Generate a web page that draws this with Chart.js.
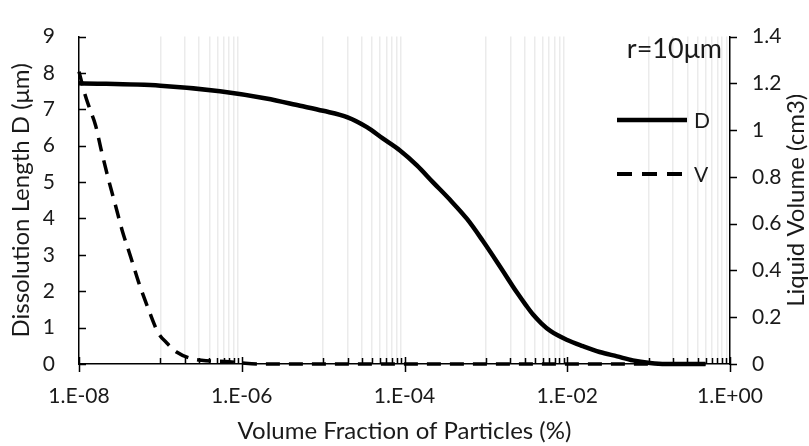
<!DOCTYPE html>
<html>
<head>
<meta charset="utf-8">
<script src="https://cdn.jsdelivr.net/npm/chart.js@4"></script>
<style>
    html, body { margin: 0; padding: 0; background: #fff; }
</style>
</head>
<body>
<canvas id="dissolutionChart" width="809" height="446"></canvas>
<script>
// volume fraction (%) and dissolution length D (um)
const fracD = [1e-8, 1e-7, 5.4e-7, 2e-6, 5.2e-6, 1e-5, 2e-5, 3.45e-5, 5.4e-5, 8.8e-5,
    1.42e-4, 2.23e-4, 3.6e-4, 5.9e-4, 9.2e-4, 1.49e-3, 2.4e-3, 3.1e-3, 3.8e-3, 4.8e-3,
    6.2e-3, 1e-2, 1.56e-2, 2.5e-2, 4.1e-2, 6.4e-2, 0.104, 0.16, 0.5];
const lengthD = [7.72, 7.65, 7.50, 7.30, 7.10, 6.96, 6.78, 6.51, 6.20, 5.87,
    5.46, 5.00, 4.52, 3.98, 3.38, 2.68, 1.97, 1.62, 1.36, 1.12,
    0.91, 0.66, 0.49, 0.33, 0.21, 0.10, 0.03, 0.0, 0.0];

// volume fraction (%) and liquid volume V (cm3)
const fracV = [1e-8, 1.19e-8, 1.36e-8, 1.6e-8, 1.89e-8, 2.3e-8, 2.8e-8, 3.4e-8, 4.3e-8, 5.4e-8,
    6.95e-8, 9.35e-8, 1.2e-7, 1.6e-7, 2.3e-7, 3.2e-7, 7e-7, 1.1e-6, 1.7e-6, 0.5];
const volumeV = [1.25, 1.15, 1.09, 1.02, 0.91, 0.79, 0.68, 0.57, 0.46, 0.35,
    0.245, 0.135, 0.09, 0.05, 0.025, 0.016, 0.01, 0.003, 0.0, 0.0];

const majorTicks = [1e-8, 1e-6, 1e-4, 1e-2, 1];
const xTickLabels = ["1.E-08", "1.E-06", "1.E-04", "1.E-02", "1.E+00"];

const FONT = "Lato";
const TEXT = "#1a1a1a";

function isMajor(v) {
    return majorTicks.some(m => Math.abs(Math.log10(v) - Math.log10(m)) < 1e-6);
}

// minor ticks: 1..9 x 10^odd exponent, as in the original
function buildXTicks() {
    const out = [];
    for (let e = -8; e <= 0; e++) {
        if (e % 2 === 0) {
            out.push(Math.pow(10, e));
        } else {
            for (let m = 1; m <= 9; m++) out.push(m * Math.pow(10, e));
        }
    }
    return out.map(v => ({ value: v }));
}

const axisMarks = {
    id: "axisMarks",
    beforeDatasetsDraw(chart) {
        const { ctx, chartArea: a, scales } = chart;
        ctx.save();
        ctx.strokeStyle = "#000";
        ctx.lineWidth = 1.5;
        ctx.beginPath();
        scales.y.ticks.forEach(t => {
            const py = Math.round(scales.y.getPixelForValue(t.value)) + 0.5;
            ctx.moveTo(a.left, py);
            ctx.lineTo(a.left + 7, py);
        });
        scales.y1.ticks.forEach(t => {
            const py = Math.round(scales.y1.getPixelForValue(t.value)) + 0.5;
            ctx.moveTo(a.right, py);
            ctx.lineTo(a.right + 7, py);
        });
        scales.x.ticks.forEach(t => {
            const px = Math.round(scales.x.getPixelForValue(t.value)) + 0.5;
            if (isMajor(t.value)) {
                ctx.moveTo(px, a.bottom - 7);
                ctx.lineTo(px, a.bottom + 8);
            } else {
                ctx.moveTo(px, a.bottom - 6);
                ctx.lineTo(px, a.bottom);
            }
        });
        ctx.stroke();
        ctx.restore();
    },
    afterDraw(chart) {
        const { ctx, chartArea: a } = chart;
        ctx.save();
        ctx.fillStyle = TEXT;
        ctx.font = "27px " + FONT;
        ctx.textAlign = "right";
        ctx.textBaseline = "alphabetic";
        ctx.fillText("r=10\u03bcm", a.right - 8, 58);

        // right axis title, reading bottom to top like the left one
        ctx.save();
        ctx.font = "24px " + FONT;
        ctx.textAlign = "center";
        ctx.textBaseline = "middle";
        ctx.translate(796, (a.top + a.bottom) / 2);
        ctx.rotate(-Math.PI / 2);
        ctx.fillText("Liquid Volume (cm3)", 0, 0);
        ctx.restore();

        // legend
        const rows = [
            { label: "D", y: 120, dash: [], width: 4.5 },
            { label: "V", y: 174, dash: [15, 10], width: 4 }
        ];
        ctx.font = "21px " + FONT;
        ctx.textAlign = "left";
        ctx.textBaseline = "middle";
        rows.forEach(r => {
            ctx.beginPath();
            ctx.setLineDash(r.dash);
            ctx.lineWidth = r.width;
            ctx.strokeStyle = "#000";
            ctx.moveTo(617, r.y);
            ctx.lineTo(687, r.y);
            ctx.stroke();
            ctx.setLineDash([]);
            ctx.fillText(r.label, 694, r.y + 1);
        });
        ctx.restore();
    }
};

document.addEventListener("DOMContentLoaded", () => {
    const ctx = document.getElementById("dissolutionChart").getContext("2d");

    const data = {
        datasets: [
            {
                label: "D",
                data: fracD.map((x, i) => ({ x: x, y: lengthD[i] })),
                yAxisID: "y",
                borderColor: "#000",
                borderWidth: 4.5,
                pointRadius: 0,
                cubicInterpolationMode: "monotone",
                clip: false
            },
            {
                label: "V",
                data: fracV.map((x, i) => ({ x: x, y: volumeV[i] })),
                yAxisID: "y1",
                borderColor: "#000",
                borderWidth: 3.5,
                borderDash: [14, 9],
                pointRadius: 0,
                cubicInterpolationMode: "monotone",
                clip: false
            }
        ]
    };

    const tickFont = { family: FONT, size: 21 };
    const titleFont = { family: FONT, size: 24 };

    const options = {
        responsive: false,
        animation: false,
        layout: {
            padding: { top: 21, left: 0, right: 0, bottom: 0 }
        },
        plugins: {
            legend: { display: false },
            tooltip: { enabled: false }
        },
        scales: {
            x: {
                type: "logarithmic",
                min: 1e-8,
                max: 1,
                afterBuildTicks: scale => { scale.ticks = buildXTicks(); },
                afterFit: scale => { scale.height = 82; },
                ticks: {
                    autoSkip: false,
                    maxRotation: 0,
                    padding: 20,
                    color: TEXT,
                    font: tickFont,
                    callback: value => {
                        const i = majorTicks.findIndex(m => Math.abs(Math.log10(value) - Math.log10(m)) < 1e-6);
                        return i >= 0 ? xTickLabels[i] : "";
                    }
                },
                grid: {
                    drawTicks: false,
                    lineWidth: 1.5,
                    color: c => (c.tick && !isMajor(c.tick.value)) ? "#ebebeb" : "rgba(0,0,0,0)"
                },
                border: { color: "#000", width: 1.5 },
                title: {
                    display: true,
                    text: "Volume Fraction of Particles (%)",
                    color: TEXT,
                    font: titleFont,
                    padding: { top: 0, bottom: 0 }
                }
            },
            y: {
                position: "left",
                min: 0,
                max: 9,
                afterFit: scale => { scale.width = 79; },
                ticks: {
                    stepSize: 1,
                    padding: 24,
                    color: TEXT,
                    font: tickFont
                },
                grid: { display: false, drawTicks: false },
                border: { color: "#000", width: 1.5 },
                title: {
                    display: true,
                    text: "Dissolution Length D (\u03bcm)",
                    color: TEXT,
                    font: titleFont,
                    padding: { top: 7, bottom: 0 }
                }
            },
            y1: {
                position: "right",
                min: 0,
                max: 1.4,
                afterFit: scale => { scale.width = 79; },
                ticks: {
                    stepSize: 0.2,
                    padding: 22,
                    color: TEXT,
                    font: tickFont,
                    callback: v => String(Number(v.toFixed(1)))
                },
                grid: { display: false, drawTicks: false },
                border: { color: "#000", width: 1.5 }
            }
        }
    };

    new Chart(ctx, {
        type: "line",
        data: data,
        options: options,
        plugins: [axisMarks]
    });
});
</script>
</body>
</html>
